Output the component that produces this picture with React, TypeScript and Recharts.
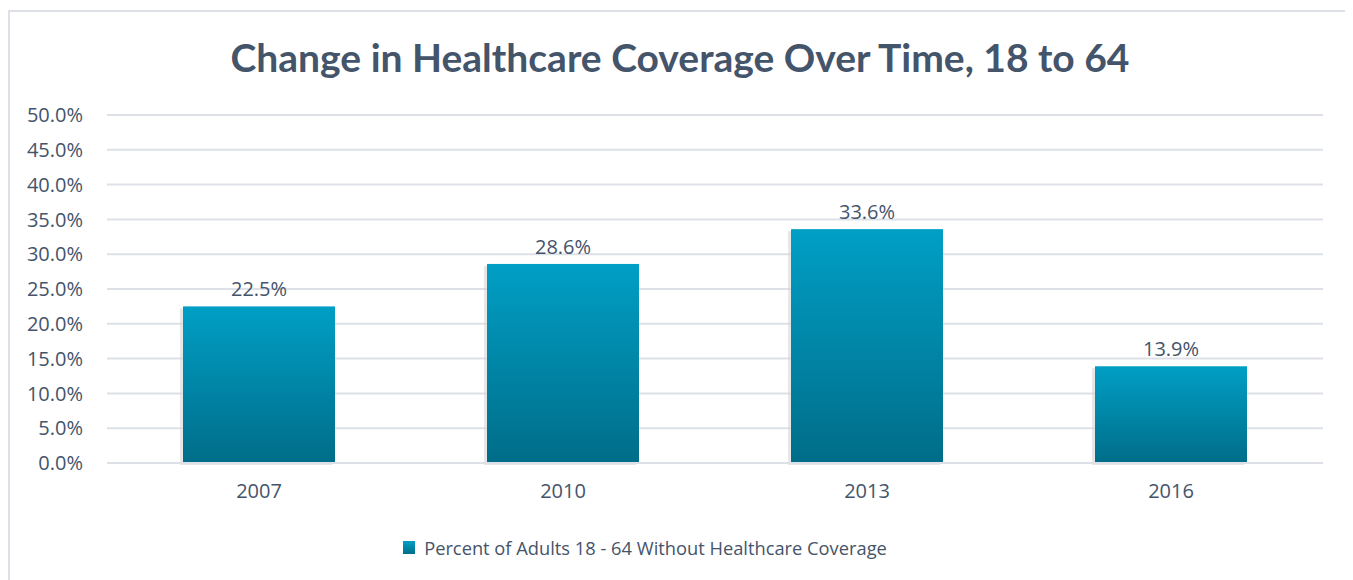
import React from 'react';
import { BarChart, Bar, XAxis, YAxis, CartesianGrid, LabelList, Legend } from 'recharts';

const years = ['2007', '2010', '2013', '2016'];
const uninsured = [22.5, 28.6, 33.6, 13.9];
const yTicks = [0, 5, 10, 15, 20, 25, 30, 35, 40, 45, 50];
const seriesName = 'Percent of Adults 18 - 64 Without Healthcare Coverage';
const titleText = 'Change in Healthcare Coverage Over Time, 18 to 64';

const data = years.map((y, i) => ({ year: y, value: uninsured[i] }));

const TITLE_FONT = 'Lato, "Open Sans", sans-serif';
const FONT = '"Open Sans", Lato, sans-serif';
const TEXT = '#44546A';

const ShadowBar = (props: any) => {
  const { x, y, width, height } = props;
  if (height <= 0) return null;
  return (
    <g>
      <rect x={x - 3} y={y + 2} width={width} height={height} fill="#cfcfcf" opacity={0.5} />
      <rect x={x} y={y} width={width} height={height} fill="url(#barGrad)" />
    </g>
  );
};

const LegendContent = () => (
  <div style={{ display: 'flex', justifyContent: 'center', alignItems: 'center', fontFamily: FONT, fontSize: 18.3, color: TEXT, marginLeft: -70 }}>
    <div style={{ width: 12, height: 13, background: 'linear-gradient(#009EC4, #006E8A)', marginRight: 9 }} />
    <span>{seriesName}</span>
  </div>
);

export default function App() {
  return (
    <div style={{ marginTop: 2, width: 1340, height: 580, border: '2px solid #DDE1E7', position: 'relative', background: '#fff' }}>
      <div style={{ position: 'absolute', top: 22, left: 0, width: 1340, textAlign: 'center', fontFamily: TITLE_FONT, fontWeight: 700, fontSize: 39, color: TEXT }}>
        {titleText}
      </div>
      <BarChart width={1340} height={568} data={data} margin={{ top: 103, right: 27, left: 7, bottom: 42 }} barCategoryGap="25%">
        <defs>
          <linearGradient id="barGrad" x1="0" y1="0" x2="0" y2="1">
            <stop offset="0%" stopColor="#009FC5" />
            <stop offset="100%" stopColor="#006D89" />
          </linearGradient>
        </defs>
        <CartesianGrid vertical={false} stroke="#DDE1E7" strokeWidth={2} />
        <XAxis dataKey="year" axisLine={{ stroke: '#DDE1E7', strokeWidth: 2 }} tickLine={false} tickSize={0} tickMargin={21} height={50}
          tick={{ fill: TEXT, fontSize: 20, fontFamily: FONT }} />
        <YAxis domain={[0, 50]} ticks={yTicks} interval={0} width={90} axisLine={false} tickLine={false} tickSize={0} tickMargin={24}
          tickFormatter={(v: number) => v.toFixed(1) + '%'} tick={{ fill: TEXT, fontSize: 20, fontFamily: FONT }} />
        <Legend verticalAlign="bottom" content={LegendContent} wrapperStyle={{ top: 523, left: 0, width: 1340 }} />
        <Bar dataKey="value" name={seriesName} shape={ShadowBar} isAnimationActive={false}>
          <LabelList dataKey="value" position="top" offset={10} formatter={(v: any) => Number(v).toFixed(1) + '%'}
            style={{ fill: TEXT, fontSize: 20, fontFamily: FONT }} />
        </Bar>
      </BarChart>
    </div>
  );
}
